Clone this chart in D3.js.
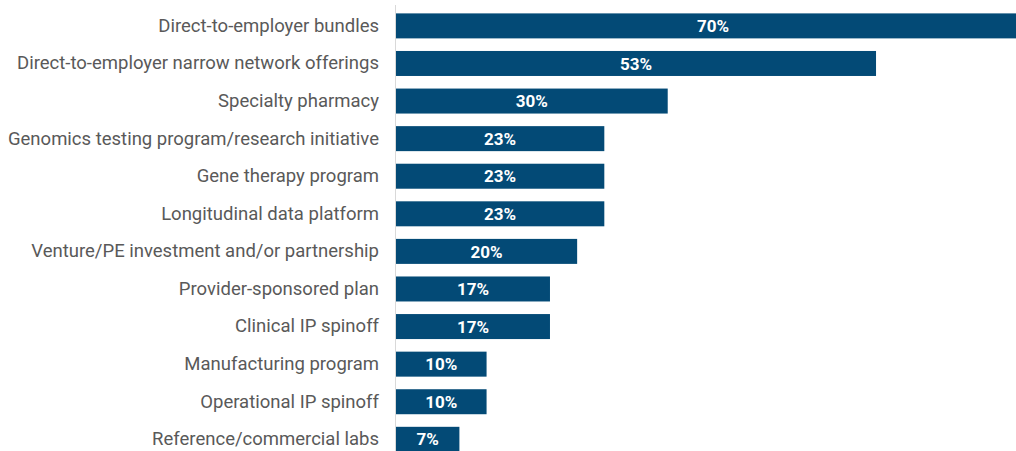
<!DOCTYPE html>
<html>
<head>
<meta charset="utf-8">
<script src="https://cdn.jsdelivr.net/npm/d3@7"></script>
<style>
  body { margin: 0; background: #fff; }
  svg { display: block; }
</style>
</head>
<body>
<div id="chart-area"></div>
<script>
const categories = [
  'Direct-to-employer bundles',
  'Direct-to-employer narrow network offerings',
  'Specialty pharmacy',
  'Genomics testing program/research initiative',
  'Gene therapy program ',
  'Longitudinal data platform',
  'Venture/PE investment and/or partnership',
  'Provider-sponsored plan',
  'Clinical IP spinoff',
  'Manufacturing program',
  'Operational IP spinoff',
  'Reference/commercial labs'
];
const values = [70, 53, 30, 23, 23, 23, 20, 17, 17, 10, 10, 7];

const W = 1016, H = 451;
const margin = {left: 396, top: 7};
const rowStep = 37.6;

const svg = d3.select('#chart-area')
  .append('svg')
  .attr('width', W)
  .attr('height', H);

const g = svg.append('g')
  .attr('transform', `translate(${margin.left}, ${margin.top})`);

// x scale: the top bar runs past the right edge, as in the original
const x = d3.scaleLinear()
  .domain([0, 70])
  .range([0, 634]);

const y = d3.scaleBand()
  .domain(categories)
  .range([0, rowStep * categories.length])
  .paddingInner(0.335)
  .paddingOuter(0.17);

// axis line
g.append('line')
  .attr('x1', -0.5).attr('x2', -0.5)
  .attr('y1', -2).attr('y2', H)
  .attr('stroke', '#d9d9d9')
  .attr('stroke-width', 1);

// Category labels
const yAxis = d3.axisLeft(y).tickSize(0).tickPadding(17);
g.append('g')
  .attr('class', 'y-axis')
  .call(yAxis)
  .call(a => a.select('.domain').remove())
  .selectAll('text')
    .attr('font-family', 'Roboto, sans-serif')
    .attr('font-size', '18.5px')
    .attr('fill', '#595959');

g.selectAll('rect.bar')
  .data(values)
  .enter()
  .append('rect')
  .attr('class', 'bar')
  .attr('x', 0)
  .attr('y', (d, i) => y(categories[i]))
  .attr('width', d => x(d))
  .attr('height', y.bandwidth())
  .attr('fill', '#034a76');

g.selectAll('text.val')
  .data(values)
  .enter()
  .append('text')
  .attr('class', 'val')
  .attr('x', d => x(d) / 2)
  .attr('y', (d, i) => y(categories[i]) + y.bandwidth() / 2)
  .attr('dy', '0.36em')
  .attr('text-anchor', 'middle')
  .attr('font-family', 'Roboto, sans-serif')
  .attr('font-weight', 'bold')
  .attr('font-size', '17px')
  .attr('fill', '#fff')
  .text(d => d + '%');
</script>
</body>
</html>
